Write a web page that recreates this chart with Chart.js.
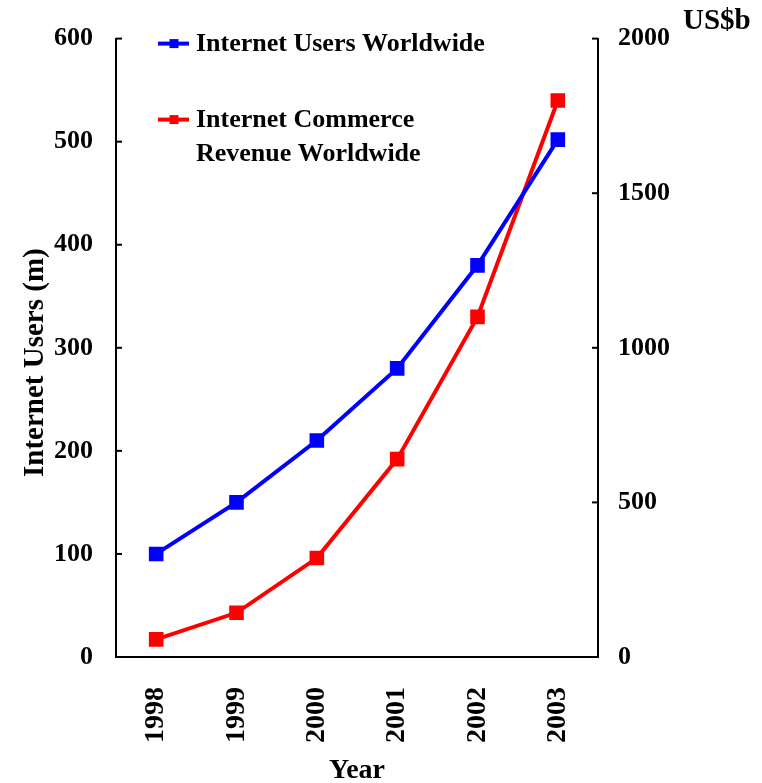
<!DOCTYPE html>
<html>
<head>
<meta charset="utf-8">
<script src="https://cdn.jsdelivr.net/npm/chart.js@4.4.1/dist/chart.umd.min.js"></script>
<style>
  html, body { margin: 0; padding: 0; background: #fff; }
  #wrap { width: 762px; height: 783px; position: relative; }
</style>
</head>
<body>
<div id="wrap"><canvas id="chart"></canvas></div>
<script>
// --- Chart data ---
const years = ['1998', '1999', '2000', '2001', '2002', '2003'];
const usersMillions = [100, 150, 210, 280, 380, 502];
const revenueBillions = [57, 143, 320, 640, 1100, 1800];
const usersTicks = [0, 100, 200, 300, 400, 500, 600];
const revenueTicks = [0, 500, 1000, 1500, 2000];
const legendLabels = [['Internet Users Worldwide'], ['Internet Commerce', 'Revenue Worldwide']];

const FONT = "'Liberation Serif', 'Times New Roman', serif";
const BLUE = '#0000ff';
const RED = '#ff0000';

// tick marks that point into the plot on both value axes
const innerTicks = {
    id: 'innerTicks',
    afterDatasetsDraw(chart) {
        const ctx = chart.ctx;
        ctx.save();
        ctx.strokeStyle = '#000';
        ctx.lineWidth = 2;
        [['y', 1], ['y1', -1]].forEach(([id, dir]) => {
            const scale = chart.scales[id];
            const x = id === 'y' ? scale.right : scale.left;
            scale.ticks.forEach(t => {
                const py = scale.getPixelForValue(t.value);
                ctx.beginPath();
                ctx.moveTo(x, py);
                ctx.lineTo(x + dir * 6, py);
                ctx.stroke();
            });
        });
        ctx.restore();
    }
};

// legend inside the plot (two-line label), y title and unit label
const insideLegend = {
    id: 'insideLegend',
    afterDraw(chart) {
        const ctx = chart.ctx;
        const area = chart.chartArea;
        const colors = [BLUE, RED];
        const rows = [area.top + 5, area.top + 81];
        ctx.save();
        ctx.font = `bold 26px ${FONT}`;
        ctx.textBaseline = 'middle';
        legendLabels.forEach((lines, i) => {
            const y = rows[i];
            const x0 = area.left + 42;
            ctx.strokeStyle = colors[i];
            ctx.lineWidth = 4;
            ctx.beginPath();
            ctx.moveTo(x0, y);
            ctx.lineTo(x0 + 31, y);
            ctx.stroke();
            ctx.fillStyle = colors[i];
            ctx.fillRect(x0 + 11.5, y - 4.5, 9, 9);
            ctx.fillStyle = '#000';
            lines.forEach((t, j) => ctx.fillText(t, x0 + 38, y + 1 + j * 34));
        });
        ctx.font = `bold 29px ${FONT}`;
        ctx.textAlign = 'left';
        ctx.fillText('US$b', area.right + 85, 22);

        // y axis title, a little below the middle as in the original
        ctx.translate(36, area.top + 324);
        ctx.rotate(-Math.PI / 2);
        ctx.textAlign = 'center';
        ctx.fillText('Internet Users (m)', 0, 0);
        ctx.restore();
    }
};

const tickFont = { family: FONT, size: 26, weight: 'bold' };

new Chart(document.getElementById('chart'), {
    type: 'line',
    data: {
        labels: years,
        datasets: [{
            label: 'Internet Users Worldwide',
            data: usersMillions,
            yAxisID: 'y',
            borderColor: BLUE,
            backgroundColor: BLUE,
            borderWidth: 4,
            pointStyle: 'rect',
            pointRadius: 7.5,
            pointHoverRadius: 7.5,
            tension: 0
        }, {
            label: 'Internet Commerce Revenue Worldwide',
            data: revenueBillions,
            yAxisID: 'y1',
            borderColor: RED,
            backgroundColor: RED,
            borderWidth: 4,
            pointStyle: 'rect',
            pointRadius: 7.5,
            pointHoverRadius: 7.5,
            tension: 0
        }]
    },
    options: {
        responsive: true,
        maintainAspectRatio: false,
        animation: false,
        layout: { padding: { top: 38, left: 0, right: 0, bottom: 0 } },
        plugins: {
            legend: { display: false },
            tooltip: { enabled: false }
        },
        scales: {
            x: {
                offset: true,
                grid: { drawOnChartArea: false, drawTicks: false },
                border: { display: true, color: '#000', width: 2 },
                ticks: { color: '#000', font: { family: FONT, size: 28, weight: 'bold' }, minRotation: 90, maxRotation: 90, padding: 30 },
                title: { display: true, text: 'Year', color: '#000', font: { family: FONT, size: 28, weight: 'bold', lineHeight: 1 }, padding: { top: 0, bottom: -2 } },
                afterFit: (scale) => { scale.height = 126; }
            },
            y: {
                position: 'left',
                min: 0, max: 600,
                afterBuildTicks: (scale) => { scale.ticks = usersTicks.map(v => ({ value: v })); },
                grid: { drawOnChartArea: false, drawTicks: false },
                border: { display: true, color: '#000', width: 2 },
                ticks: { color: '#000', font: tickFont, padding: 23, callback: (v) => String(v) },
                afterFit: (scale) => { scale.width = 116; }
            },
            y1: {
                position: 'right',
                min: 0, max: 2000,
                afterBuildTicks: (scale) => { scale.ticks = revenueTicks.map(v => ({ value: v })); },
                grid: { drawOnChartArea: false, drawTicks: false },
                border: { display: true, color: '#000', width: 2 },
                ticks: { color: '#000', font: tickFont, padding: 20, callback: (v) => String(v) },
                afterFit: (scale) => { scale.width = 164; }
            }
        }
    },
    plugins: [innerTicks, insideLegend]
});
</script>
</body>
</html>
